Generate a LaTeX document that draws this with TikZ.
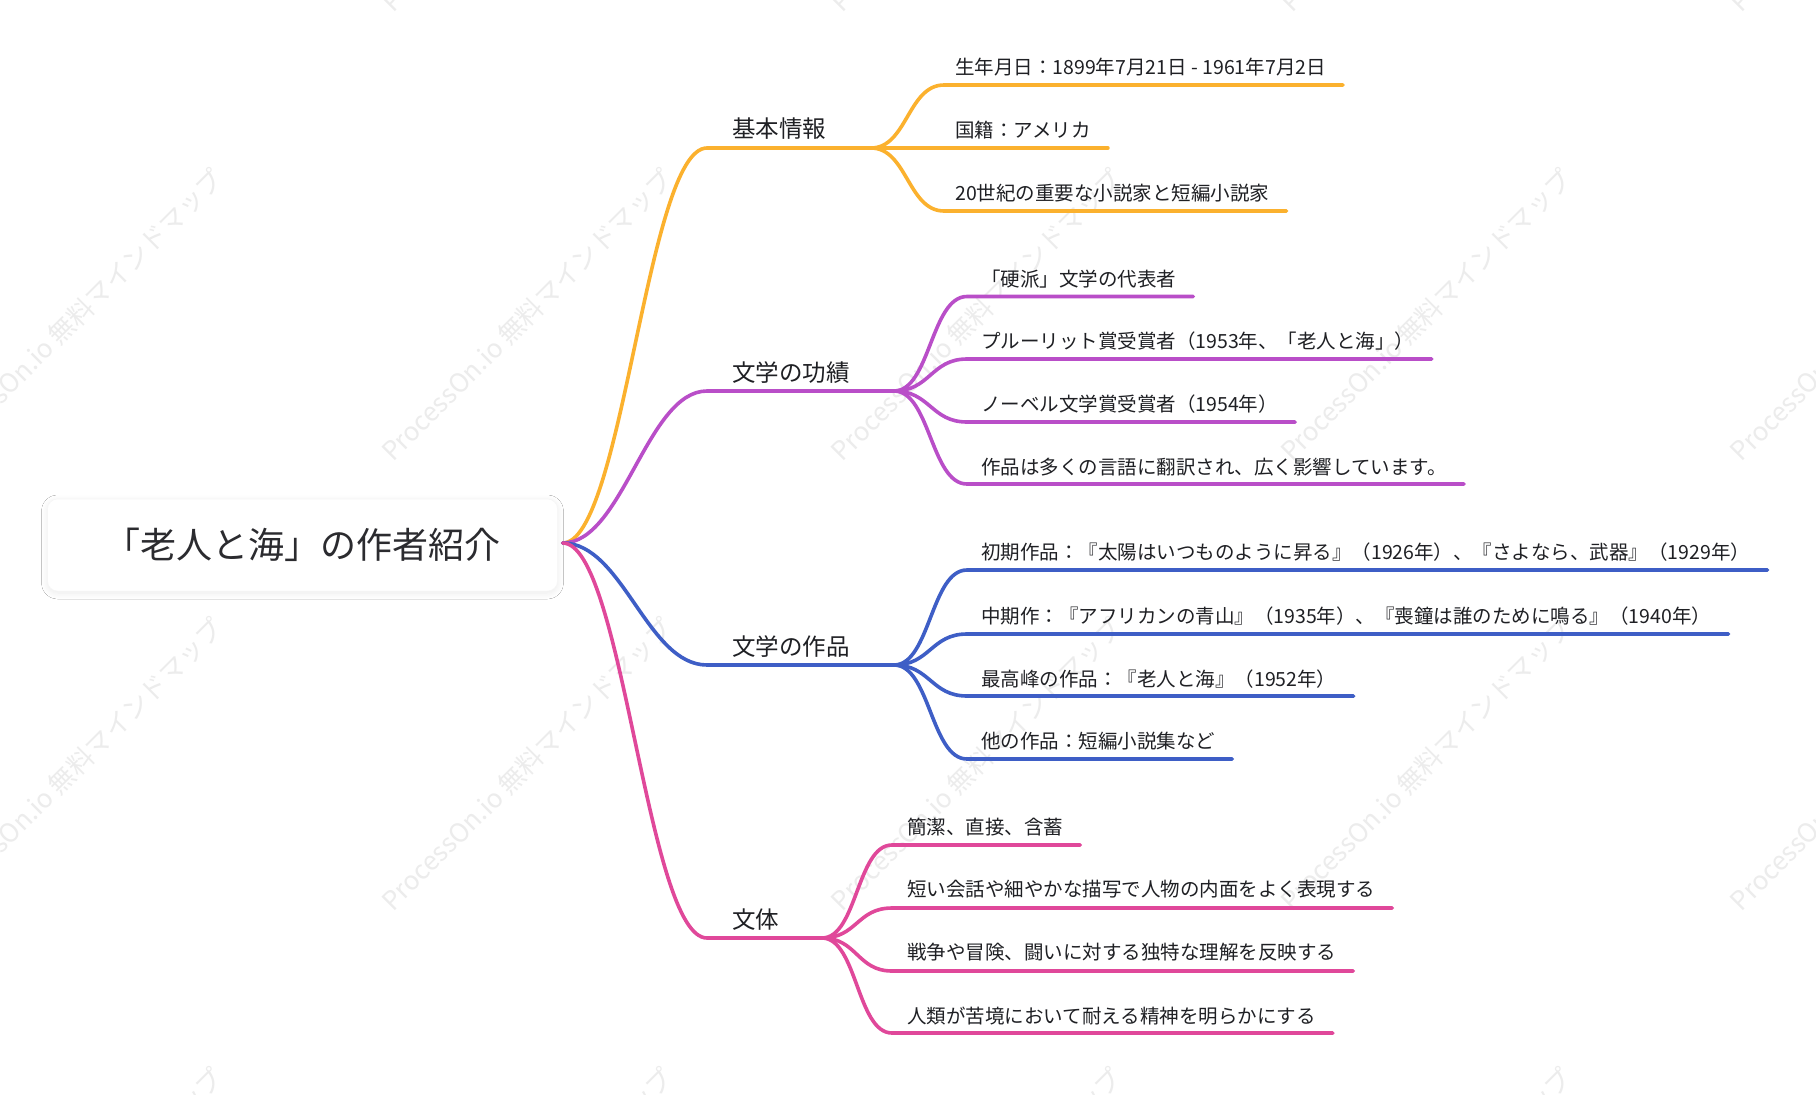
\documentclass[tikz,border=0pt]{standalone}
\usepackage{fontspec}
\setmainfont{Noto Sans CJK JP}
\usetikzlibrary{calc,shadows.blur}
\definecolor{cOr}{HTML}{FBB12E}
\definecolor{cPu}{HTML}{B94EC8}
\definecolor{cBl}{HTML}{3E5EC6}
\definecolor{cPk}{HTML}{E0489A}
\definecolor{txt}{HTML}{1F2024}
\definecolor{wmc}{HTML}{ECECEC}
\definecolor{boxline}{HTML}{F6F6F6}
\begin{document}
\begin{tikzpicture}[x=1pt,y=-1pt,
  conn/.style={line width=3.6pt, line cap=round},
  leaf/.style={anchor=west, inner sep=0pt, text height=0.8em, text depth=0.07em, font=\fontsize{19.5}{23}\selectfont, text=txt},
  topic/.style={anchor=west, inner sep=0pt, text height=0.8em, text depth=0.07em, font=\fontsize{23.5}{28}\selectfont, text=txt},
  rootbox/.style={rectangle, rounded corners=10pt, fill=white, draw=boxline, line width=0.5pt,
    minimum width=510pt, minimum height=92pt, inner sep=0pt, font=\fontsize{36}{40}\selectfont, text=txt!88!gray,
    blur shadow={shadow blur steps=10, shadow xshift=0pt, shadow yshift=-2pt, shadow opacity=8, shadow blur radius=6pt}},
  wmark/.style={rotate=45, text=wmc, font=\fontsize{26}{30}\selectfont, inner sep=0pt}]
\useasboundingbox (0,0) rectangle (1816,1095);
\fill[white] (0,0) rectangle (1816,1095);
% watermarks
\foreach \i/\cx in {1/77.5,2/527,3/976.5,4/1426,5/1875.5}{
  \foreach \j/\cy in {1/-134.5,2/315,3/764.5,4/1214}{
    \node[wmark] (wm\i\j) at (\cx,\cy) {ProcessOn.io 無料マインドマップ};
  }
}
% root
\node[rootbox] (root) at (302.5,545) {「老人と海」の作者紹介};
\coordinate (o) at ($(root.east)+(5,-2)$);
% topics
\node[topic] (t1) at (732,134) {基本情報};
\node[topic] (t2) at (732,378) {文学の功績};
\node[topic] (t3) at (732,652) {文学の作品};
\node[topic] (t4) at (732,925) {文体};
\coordinate (b1) at (707,148); \coordinate (f1) at (871,148);
\coordinate (b2) at (707,391); \coordinate (f2) at (894,391);
\coordinate (b3) at (707,665); \coordinate (f3) at (894,665);
\coordinate (b4) at (707,938); \coordinate (f4) at (822,938);
% leaves
\node[leaf] (c11) at (955,71) {生年月日：1899年7月21日 - 1961年7月2日};
\node[leaf] (c12) at (955,134) {国籍：アメリカ};
\node[leaf] (c13) at (955,197) {20世紀の重要な小説家と短編小説家};
\node[leaf] (c21) at (981,283) {「硬派」文学の代表者};
\node[leaf] (c22) at (981,345) {プルーリット賞受賞者（1953年、「老人と海」）};
\node[leaf] (c23) at (981,408) {ノーベル文学賞受賞者（1954年）};
\node[leaf] (c24) at (981,471) {作品は多くの言語に翻訳され、広く影響しています。};
\node[leaf] (c31) at (981,556) {初期作品：『太陽はいつものように昇る』（1926年）、『さよなら、武器』（1929年）};
\node[leaf] (c32) at (981,620) {中期作：『アフリカンの青山』（1935年）、『喪鐘は誰のために鳴る』（1940年）};
\node[leaf] (c33) at (981,683) {最高峰の作品：『老人と海』（1952年）};
\node[leaf] (c34) at (981,745) {他の作品：短編小説集など};
\node[leaf] (c41) at (907,831) {簡潔、直接、含蓄};
\node[leaf] (c42) at (907,893) {短い会話や細やかな描写で人物の内面をよく表現する};
\node[leaf] (c43) at (907,956) {戦争や冒険、闘いに対する独特な理解を反映する};
\node[leaf] (c44) at (907,1020) {人類が苦境において耐える精神を明らかにする};
% leaf line starts
\coordinate (s11) at (944,85);  \coordinate (s13) at (944,211);
\coordinate (s21) at (967,296.5); \coordinate (s22) at (967,359); \coordinate (s23) at (967,422); \coordinate (s24) at (967,484);
\coordinate (s31) at (967,570); \coordinate (s32) at (967,634); \coordinate (s33) at (967,696); \coordinate (s34) at (967,759);
\coordinate (s41) at (892,845); \coordinate (s42) at (892,908); \coordinate (s43) at (892,971); \coordinate (s44) at (892,1033);
% root connectors
\draw[conn, cOr] (o) .. controls +(60,0) and +(-60,0) .. (b1) -- (f1);
\draw[conn, cPu] (o) .. controls +(60,0) and +(-60,0) .. (b2) -- (f2);
\draw[conn, cBl] (o) .. controls +(60,0) and +(-60,0) .. (b3) -- (f3);
\draw[conn, cPk] (o) .. controls +(60,0) and +(-60,0) .. (b4) -- (f4);
% orange leaves
\draw[conn, cOr] (f1) .. controls +(36,0) and +(-36,0) .. (s11) -- ($(s11 -| c11.east)+(17,0)$);
\draw[conn, cOr] (f1) -- ($(f1 -| c12.east)+(17,0)$);
\draw[conn, cOr] (f1) .. controls +(36,0) and +(-36,0) .. (s13) -- ($(s13 -| c13.east)+(17,0)$);
% purple, blue, pink leaves
\foreach \k in {1,2,3,4}{
  \draw[conn, cPu] (f2) .. controls +(36,0) and +(-36,0) .. (s2\k) -- ($(s2\k -| c2\k.east)+(17,0)$);
  \draw[conn, cBl] (f3) .. controls +(36,0) and +(-36,0) .. (s3\k) -- ($(s3\k -| c3\k.east)+(17,0)$);
  \draw[conn, cPk] (f4) .. controls +(35,0) and +(-35,0) .. (s4\k) -- ($(s4\k -| c4\k.east)+(17,0)$);
}
\end{tikzpicture}
\end{document}
